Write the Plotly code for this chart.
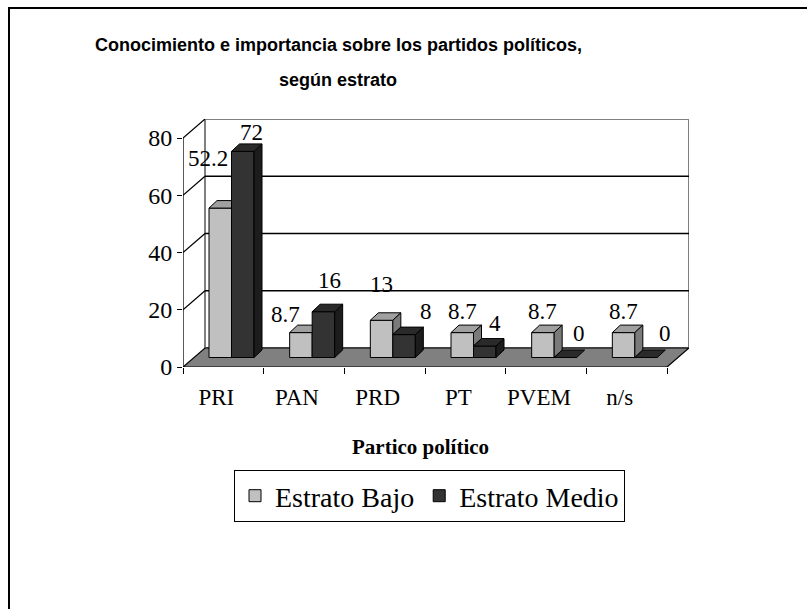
import plotly.graph_objects as go

# ---------------- data ----------------
categories = ["PRI", "PAN", "PRD", "PT", "PVEM", "n/s"]
estrato_bajo = [52.2, 8.7, 13, 8.7, 8.7, 8.7]
estrato_medio = [72, 16, 8, 4, 0, 0]
y_tick_values = [0, 20, 40, 60, 80]
series_names = ["Estrato Bajo", "Estrato Medio"]
title_line1 = "Conocimiento e importancia sobre los partidos políticos,"
title_line2 = "según estrato"
x_title = "Partico político"

# ---------------- label nudges (pixels) ----------------
bajo_label_dx = [-12, -15, 0, 0, 0, 0]
bajo_label_dy = [50, 18, 36, 21, 21, 21]
medio_label_dx = [9, 6, 22, 10, 14, 19]
medio_label_dy = [19, 31, 23, 23, 24, 24]

# ---------------- geometry / style ----------------
W_FIG, H_FIG = 807, 609
PL, PR, PT, PB = 183, 689, 119, 367          # plot area in pixels
N = len(categories)
YMAX = 80
PX_PER_CAT = 80.67
PX_PER_VAL = 2.8625
DXC = 22 / PX_PER_CAT        # depth of the floor, category units
DYV = 19 / PX_PER_VAL        # depth of the floor, value units
DXM, DYM = DXC / 2, DYV / 2  # bars stand at mid depth
BW = 22.5 / PX_PER_CAT       # bar width
OFF_L = -0.5 + DXM + 15 / PX_PER_CAT
OFF_D = OFF_L + BW
DXB = 8 / PX_PER_CAT         # bar depth
DYB = 7.5 / PX_PER_VAL

LIGHT_FRONT, LIGHT_TOP, LIGHT_SIDE = "#C0C0C0", "#A0A0A0", "#7A7A7A"
DARK_FRONT, DARK_TOP, DARK_SIDE = "#333333", "#2A2A2A", "#1C1C1C"
SERIF = "Liberation Serif"
SANS = "Liberation Sans"


def px_x(px):
    return (px - PL) / (PR - PL)


def px_y(py):
    return (PB - py) / (PB - PT)


def poly(pts):
    return "M " + " L ".join(f"{x},{y}" for x, y in pts) + " Z"


fig = go.Figure()

fig.add_trace(go.Bar(
    x=categories, y=estrato_bajo, base=[DYM] * N, width=BW, offset=OFF_L,
    name=series_names[0],
    marker=dict(color=LIGHT_FRONT, line=dict(color="black", width=1)),
))
fig.add_trace(go.Bar(
    x=categories, y=estrato_medio, base=[DYM] * N, width=BW, offset=OFF_D,
    name=series_names[1],
    marker=dict(color=DARK_FRONT, line=dict(color="black", width=1)),
))

shapes = []
# back wall
shapes.append(dict(type="rect", xref="x", yref="y", layer="below",
                   x0=-0.5 + DXC, x1=N - 0.5 + DXC, y0=DYV, y1=YMAX + DYV,
                   fillcolor="white", line=dict(color="#808080", width=2)))
# back wall gridlines and side wall diagonals
for v in y_tick_values:
    if 0 < v < YMAX:
        shapes.append(dict(type="line", xref="x", yref="y", layer="below",
                           x0=-0.5 + DXC, x1=N - 0.5 + DXC, y0=v + DYV, y1=v + DYV,
                           line=dict(color="black", width=1.3)))
    if v > 0:
        shapes.append(dict(type="line", xref="x", yref="y", layer="below",
                           x0=-0.5, x1=-0.5 + DXC, y0=v, y1=v + DYV,
                           line=dict(color="black", width=1.2)))
# floor
shapes.append(dict(type="path", xref="x", yref="y", layer="below",
                   path=poly([(-0.5, 0), (N - 0.5, 0), (N - 0.5 + DXC, DYV), (-0.5 + DXC, DYV)]),
                   fillcolor="#808080", line=dict(color="black", width=1.2)))
# value axis line
shapes.append(dict(type="line", xref="x", yref="y", layer="below",
                   x0=-0.5, x1=-0.5, y0=0, y1=YMAX, line=dict(color="black", width=1.3)))

# 3-D faces of the bars
edge = dict(color="black", width=1)
for i in range(N):
    lv, dv = estrato_bajo[i], estrato_medio[i]
    b = DYM
    xl = i + OFF_L
    xr = xl + BW
    lt, dt = b + lv, b + dv
    # light top
    if dt >= lt:
        pts = [(xl, lt), (xr, lt), (xr, lt + DYB), (xl + DXB, lt + DYB)]
    else:
        pts = [(xl, lt), (xr, lt), (xr + DXB, lt + DYB), (xl + DXB, lt + DYB)]
    shapes.append(dict(type="path", xref="x", yref="y", layer="above",
                       path=poly(pts), fillcolor=LIGHT_TOP, line=edge))
    # visible part of light side
    if lt > dt:
        pts = [(xr, dt), (xr + DXB, dt + DYB), (xr + DXB, lt + DYB), (xr, lt)]
        shapes.append(dict(type="path", xref="x", yref="y", layer="above",
                           path=poly(pts), fillcolor=LIGHT_SIDE, line=edge))
    # dark side
    xd = i + OFF_D
    if dv > 0:
        pts = [(xd + BW, b), (xd + BW + DXB, b + DYB), (xd + BW + DXB, dt + DYB), (xd + BW, dt)]
        shapes.append(dict(type="path", xref="x", yref="y", layer="above",
                           path=poly(pts), fillcolor=DARK_SIDE, line=edge))
    # dark top
    pts = [(xd, dt), (xd + BW, dt), (xd + BW + DXB, dt + DYB), (xd + DXB, dt + DYB)]
    shapes.append(dict(type="path", xref="x", yref="y", layer="above",
                       path=poly(pts), fillcolor=DARK_TOP, line=edge))

# outer frame (top and left edges only)
shapes.append(dict(type="path", xref="paper", yref="paper", layer="above",
                   path=f"M {px_x(9)},{px_y(615)} L {px_x(9)},{px_y(8)} L {px_x(815)},{px_y(8)}",
                   line=dict(color="black", width=2)))

annotations = []
for i in range(N):
    for vals, off, dxs, dys in ((estrato_bajo, OFF_L, bajo_label_dx, bajo_label_dy),
                                (estrato_medio, OFF_D, medio_label_dx, medio_label_dy)):
        annotations.append(dict(
            x=i + off + BW / 2, y=DYM + vals[i], xref="x", yref="y",
            text=f"{vals[i]:g}", showarrow=False, xanchor="center", yanchor="middle",
            xshift=dxs[i], yshift=dys[i], font=dict(family=SERIF, size=23, color="black")))

annotations.append(dict(x=px_x(338), y=px_y(45), xref="paper", yref="paper",
                        text=f"<b>{title_line1}</b>", showarrow=False,
                        xanchor="center", yanchor="middle",
                        font=dict(family=SANS, size=18, color="black")))
annotations.append(dict(x=px_x(338), y=px_y(80), xref="paper", yref="paper",
                        text=f"<b>{title_line2}</b>", showarrow=False,
                        xanchor="center", yanchor="middle",
                        font=dict(family=SANS, size=18, color="black")))
annotations.append(dict(x=px_x(420), y=px_y(447), xref="paper", yref="paper",
                        text=f"<b>{x_title}</b>", showarrow=False,
                        xanchor="center", yanchor="middle",
                        font=dict(family=SERIF, size=21, color="black")))

fig.update_layout(
    width=W_FIG, height=H_FIG,
    margin=dict(l=PL, r=W_FIG - PR, t=PT, b=H_FIG - PB, pad=0),
    paper_bgcolor="white", plot_bgcolor="white",
    barmode="overlay",
    showlegend=True,
    legend=dict(orientation="h", x=px_x(234), y=px_y(470), xanchor="left", yanchor="top",
                bgcolor="white", bordercolor="black", borderwidth=1,
                font=dict(family=SERIF, size=28, color="black")),
    shapes=shapes,
    annotations=annotations,
    xaxis=dict(type="category", categoryorder="array", categoryarray=categories,
               range=[-0.5, N - 0.5 + DXC], showgrid=False, zeroline=False, showline=False,
               tickson="boundaries", ticks="outside", ticklen=6, tickwidth=1.3, tickcolor="black",
               ticklabelshift=-7, ticklabelstandoff=14,
               tickfont=dict(family=SERIF, size=23, color="black"), fixedrange=True),
    yaxis=dict(range=[0, YMAX + DYV], tickmode="array", tickvals=y_tick_values,
               showgrid=False, zeroline=False, showline=False,
               ticks="outside", ticklen=5, tickwidth=1.3, tickcolor="black",
               tickfont=dict(family=SERIF, size=24, color="black"), fixedrange=True),
)

fig.write_html("out.html", config={"displayModeBar": False},
               post_script="document.body.style.margin='0';document.body.style.overflow='hidden';")
